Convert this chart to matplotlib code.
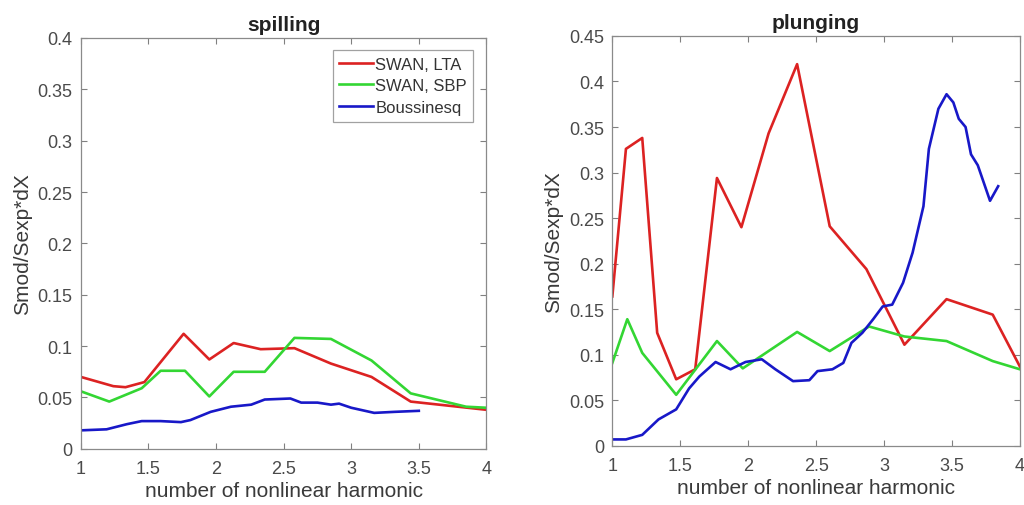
import numpy as np
import matplotlib
matplotlib.use("Agg")
from matplotlib import pyplot as plt

plt.rcParams['font.family'] = ['Liberation Sans', 'DejaVu Sans']

# spilling breaker case
spill_lta_x = [1.0, 1.24, 1.33, 1.47, 1.76, 1.95, 2.13, 2.33, 2.58, 2.85, 3.15, 3.44, 4.0]
spill_lta_y = [0.070, 0.061, 0.060, 0.065, 0.112, 0.087, 0.103, 0.097, 0.098, 0.083, 0.070, 0.046, 0.038]
spill_sbp_x = [1.0, 1.21, 1.45, 1.59, 1.77, 1.95, 2.13, 2.36, 2.58, 2.85, 3.15, 3.44, 3.85, 4.0]
spill_sbp_y = [0.056, 0.046, 0.059, 0.076, 0.076, 0.051, 0.075, 0.075, 0.108, 0.107, 0.086, 0.054, 0.041, 0.040]
spill_bous_x = [1.0, 1.19, 1.34, 1.45, 1.59, 1.74, 1.81, 1.96, 2.11, 2.26, 2.36, 2.55, 2.63,
                2.75, 2.85, 2.91, 3.0, 3.17, 3.32, 3.5]
spill_bous_y = [0.018, 0.019, 0.024, 0.027, 0.027, 0.026, 0.028, 0.036, 0.041, 0.043, 0.048, 0.049, 0.045,
                0.045, 0.043, 0.044, 0.040, 0.035, 0.036, 0.037]

# plunging breaker case
plunge_lta_x = [1.0, 1.10, 1.22, 1.33, 1.47, 1.61, 1.77, 1.95, 2.15, 2.36, 2.60, 2.87, 3.15, 3.46, 3.80, 4.0]
plunge_lta_y = [0.164, 0.326, 0.338, 0.124, 0.073, 0.084, 0.294, 0.240, 0.343, 0.419, 0.241, 0.194, 0.111,
                0.161, 0.144, 0.087]
plunge_sbp_x = [1.0, 1.11, 1.22, 1.47, 1.77, 1.96, 2.36, 2.60, 2.89, 3.15, 3.46, 3.80, 4.0]
plunge_sbp_y = [0.091, 0.139, 0.102, 0.056, 0.115, 0.085, 0.125, 0.104, 0.131, 0.120, 0.115, 0.093, 0.084]
plunge_bous_x = [1.0, 1.10, 1.22, 1.34, 1.47, 1.565, 1.64, 1.76, 1.87, 1.98, 2.10, 2.20, 2.33, 2.45, 2.51,
                 2.62, 2.70, 2.76, 2.84, 2.92, 2.99, 3.06, 3.14, 3.21, 3.29, 3.33, 3.40, 3.46, 3.51, 3.55,
                 3.60, 3.64, 3.69, 3.78, 3.84]
plunge_bous_y = [0.007, 0.007, 0.012, 0.029, 0.040, 0.063, 0.076, 0.092, 0.084, 0.092, 0.095, 0.084, 0.071,
                 0.072, 0.082, 0.084, 0.091, 0.113, 0.124, 0.139, 0.153, 0.155, 0.179, 0.212, 0.263, 0.326,
                 0.370, 0.386, 0.377, 0.359, 0.350, 0.320, 0.308, 0.269, 0.285]

labels = ['SWAN, LTA', 'SWAN, SBP', 'Boussinesq']
colors = ['#dc2222', '#33d633', '#1818c8']
xticks = [1, 1.5, 2, 2.5, 3, 3.5, 4]
xtick_labels = ['1', '1.5', '2', '2.5', '3', '3.5', '4']


def style_axes(ax, title, ymax, ystep):
    ax.set_xlim(1, 4)
    ax.set_ylim(0, ymax)
    ax.set_xticks(xticks)
    ax.set_xticklabels(xtick_labels)
    yt = np.round(np.arange(0, ymax + 1e-9, ystep), 2)
    ax.set_yticks(yt)
    ax.set_yticklabels(['%g' % v for v in yt])
    ax.tick_params(direction='in', top=True, right=True, length=4, width=0.8,
                   colors='#808080', labelcolor='#4a4a4a', labelsize=13)
    ax.tick_params(axis='x', pad=8)
    ax.tick_params(axis='y', pad=6)
    for s in ax.spines.values():
        s.set_color('#8a8a8a')
        s.set_linewidth(0.9)
    ax.set_title(title, fontsize=15, fontweight='bold', color='#222222', pad=6)
    ax.set_xlabel('number of nonlinear harmonic', fontsize=15, color='#3a3a3a', labelpad=3)
    ax.set_ylabel('Smod/Sexp*dX', fontsize=15, color='#3a3a3a', labelpad=4)


fig = plt.figure(figsize=(10.24, 5.06), dpi=100)
ax1 = fig.add_axes([0.079, 0.111, 0.396, 0.812])
ax2 = fig.add_axes([0.598, 0.117, 0.398, 0.810])

for xs, ys, c, lab in zip([spill_lta_x, spill_sbp_x, spill_bous_x],
                          [spill_lta_y, spill_sbp_y, spill_bous_y], colors, labels):
    ax1.plot(xs, ys, color=c, lw=1.9, label=lab)
for xs, ys, c in zip([plunge_lta_x, plunge_sbp_x, plunge_bous_x],
                     [plunge_lta_y, plunge_sbp_y, plunge_bous_y], colors):
    ax2.plot(xs, ys, color=c, lw=1.9)

style_axes(ax1, 'spilling', 0.4, 0.05)
style_axes(ax2, 'plunging', 0.45, 0.05)

leg = ax1.legend(loc='upper right', fontsize=12, frameon=True, fancybox=False,
                 handlelength=2.0, handletextpad=0.15, borderpad=0.4, labelspacing=0.4,
                 borderaxespad=0, bbox_to_anchor=(0.968, 0.971))
leg.get_frame().set_edgecolor('#8a8a8a')
leg.get_frame().set_linewidth(0.9)
for t in leg.get_texts():
    t.set_color('#333333')

fig.savefig('out.png', dpi=100)
